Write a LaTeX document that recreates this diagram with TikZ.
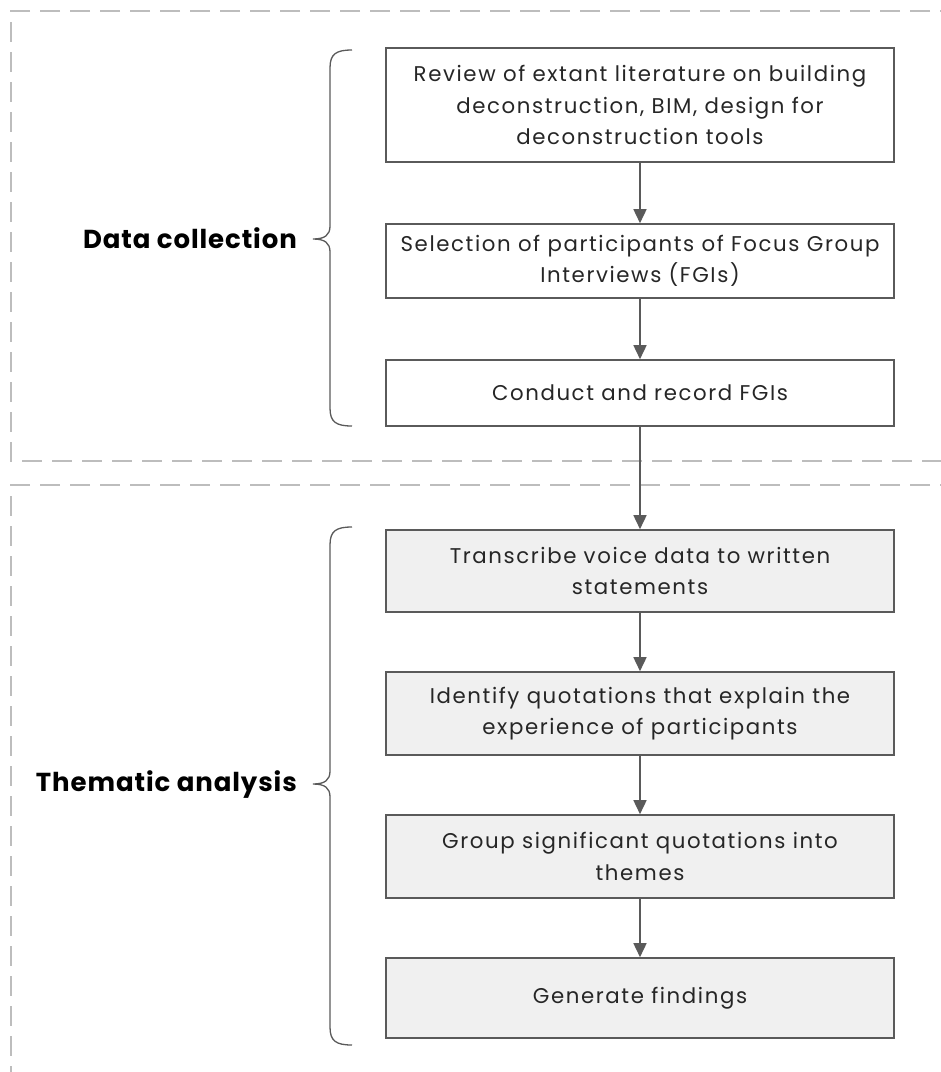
\documentclass[tikz,border=0pt]{standalone}
\usepackage{fontspec}
\setmainfont{Poppins}
\newfontfamily\boxfont[LetterSpace=7.5]{Poppins}
\newfontfamily\phasefont[LetterSpace=3.5]{Poppins}
\usetikzlibrary{arrows.meta}
\definecolor{edge}{HTML}{5A5A5A}
\definecolor{dashc}{HTML}{BDBDBD}
\definecolor{boxfill}{HTML}{F0F0F0}
\definecolor{txt}{HTML}{262626}
\tikzset{
  stepbox/.style={draw=edge, line width=1.6pt, minimum width=508pt, align=center, text=txt,
    font=\boxfont\fontsize{21.3}{31.5}\selectfont, inner sep=0pt},
  graybox/.style={stepbox, fill=boxfill},
  flow/.style={draw=edge, line width=1.6pt, -{Triangle[length=14pt,width=13pt]}},
  frame/.style={draw=dashc, line width=1.8pt, dash pattern=on 20pt off 10pt},
  brace/.style={draw=edge, line width=1.3pt},
  phase/.style={font=\phasefont\fontsize{26}{30}\selectfont\bfseries, text=black, anchor=east, inner sep=0pt}
}
\begin{document}
\begin{tikzpicture}[x=1pt,y=-1pt]
\useasboundingbox (0,0) rectangle (941,1072);
% dashed frames
\draw[frame] (960,11) -- (11,11) -- (11,461) -- (960,461);
\draw[frame] (960,485) -- (11,485) -- (11,1090);
% boxes
\node[stepbox, minimum height=114pt] (b1) at (640,105) {Review of extant literature on building\\deconstruction, BIM, design for\\deconstruction tools};
\node[stepbox, minimum height=74pt] (b2) at (640,261) {Selection of participants of Focus Group\\Interviews (FGIs)};
\node[stepbox, minimum height=66pt] (b3) at (640,393) {Conduct and record FGIs};
\node[graybox, minimum height=82pt] (b4) at (640,571) {Transcribe voice data to written\\statements};
\node[graybox, minimum height=83pt] (b5) at (640,713.5) {Identify quotations that explain the\\experience of participants};
\node[graybox, minimum height=83pt] (b6) at (640,856.5) {Group significant quotations into\\themes};
\node[graybox, minimum height=80pt] (b7) at (640,998) {Generate findings};
% arrows
\draw[flow] (b1) -- (b2);
\draw[flow] (b2) -- (b3);
\draw[flow] (b3) -- (b4);
\draw[flow] (b4) -- (b5);
\draw[flow] (b5) -- (b6);
\draw[flow] (b6) -- (b7);
% braces
\draw[brace] (352,50) .. controls (336,50) and (330,54) .. (330,68) -- (330,226)
  .. controls (330,235) and (325,239) .. (313,239)
  .. controls (325,239) and (330,243) .. (330,252) -- (330,408)
  .. controls (330,422) and (336,426) .. (352,426);
\draw[brace] (352,527) .. controls (336,527) and (330,531) .. (330,545) -- (330,771)
  .. controls (330,780) and (325,784) .. (313,784)
  .. controls (325,784) and (330,788) .. (330,797) -- (330,1027)
  .. controls (330,1041) and (336,1045) .. (352,1045);
% labels
\node[phase] (l1) at (297,238) {Data collection};
\node[phase] (l2) at (297,785) {Thematic analysis};
\end{tikzpicture}
\end{document}
